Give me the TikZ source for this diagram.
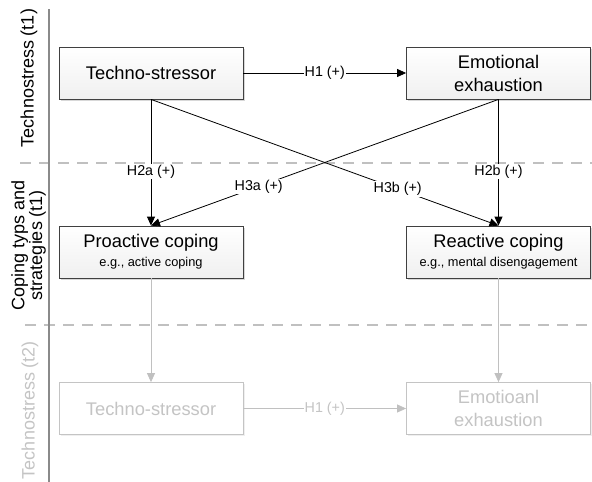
\documentclass[tikz,border=0pt]{standalone}
\usepackage{fontspec}
\setmainfont{Liberation Sans}
\usetikzlibrary{arrows.meta,shadows,positioning}
\definecolor{frame}{HTML}{404040}
\definecolor{faint}{HTML}{C4C4C4}
\definecolor{faintline}{HTML}{C0C0C0}
\definecolor{axis}{HTML}{8A8A8A}
\newcommand{\subtxt}{\fontsize{12.8}{14}\selectfont}
\begin{document}
\begin{tikzpicture}[x=1pt,y=-1pt,
  box/.style={draw=frame, line width=0.8pt, top color=white, bottom color=black!6,
    minimum width=184pt, minimum height=52pt, align=center, inner sep=2pt,
    font=\fontsize{18.3}{23}\selectfont,
    drop shadow={shadow xshift=1.5pt, shadow yshift=-1.5pt, fill=black!30, opacity=0.5}},
  gbox/.style={draw=faint, line width=0.8pt, fill=white, text=faint,
    minimum width=184pt, minimum height=52pt, align=center, inner sep=2pt,
    font=\fontsize{18.3}{23}\selectfont,
    drop shadow={shadow xshift=1.5pt, shadow yshift=-1.5pt, fill=black!12, opacity=0.5}},
  conn/.style={line width=0.8pt, -{Triangle[length=9pt,width=8pt]}},
  gconn/.style={line width=0.8pt, draw=faintline, -{Triangle[length=9pt,width=8pt]}},
  lab/.style={fill=white, inner sep=1pt, font=\fontsize{14.3}{16}\selectfont},
  glab/.style={fill=white, inner sep=1pt, text=faint, font=\fontsize{14.3}{16}\selectfont},
  side/.style={rotate=90, align=center, font=\fontsize{18}{16}\selectfont},
  sep/.style={draw=faintline, line width=1.4pt, dash pattern=on 11pt off 8pt}
]
\useasboundingbox (0,0) rectangle (592,482);

% separators
\coordinate (s1a) at (20,163); \coordinate (s1b) at (592,163);
\coordinate (s2a) at (25,325); \coordinate (s2b) at (592,325);
\draw[sep] (s1a) -- (s1b);
\draw[sep] (s2a) -- (s2b);
\coordinate (va) at (49,9); \coordinate (vb) at (49,482);
\draw[axis, line width=1.8pt] (va) -- (vb);

% side labels
\node[side] (l1) at (29,78) {Technostress (t1)};
\node[side] (l2) at (28.5,245) {Coping typs and\\strategies (t1)};
\node[side, text=faint] (l3) at (30,410) {Technostress (t2)};

% boxes
\node[box] (ts) at (151,73) {Techno-stressor};
\node[box] (ee) at (498.5,73) {Emotional\\exhaustion};
\node[box] (pc) at (151,252) {Proactive coping\\[-4pt]{\subtxt e.g., active coping}};
\node[box] (rc) at (498.5,252) {Reactive coping\\[-4pt]{\subtxt e.g., mental disengagement}};
\node[gbox] (ts2) at (151,408.5) {Techno-stressor};
\node[gbox] (ee2) at (498.5,408.5) {Emotioanl\\exhaustion};

% connectors
\draw[conn] (ts) -- node[lab] {H1 (+)} (ee);
\draw[conn] (ts.south) -- node[lab, pos=0.57] {H2a (+)} (pc.north);
\draw[conn] (ee.south) -- node[lab, pos=0.57] {H2b (+)} (rc.north);
\draw[conn] (ee.south) -- node[lab, pos=0.69] {H3a (+)} (pc.north);
\draw[conn] (ts.south) -- node[lab, pos=0.71] {H3b (+)} (rc.north);
\draw[gconn] (pc) -- (ts2);
\draw[gconn] (rc) -- (ee2);
\draw[gconn] (ts2) -- node[glab] {H1 (+)} (ee2);
\end{tikzpicture}
\end{document}
